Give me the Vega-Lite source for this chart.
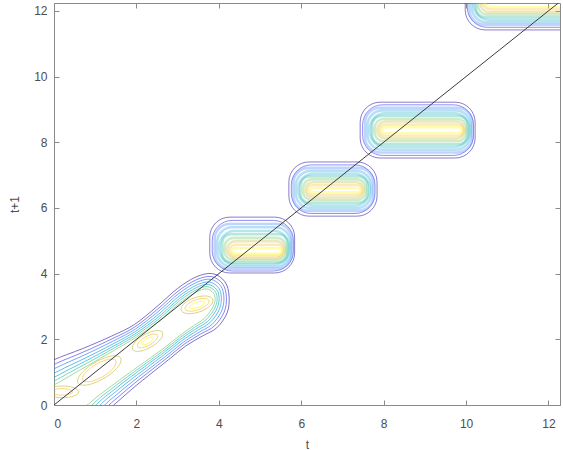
{
"$schema": "https://vega.github.io/schema/vega-lite/v6.json",
"width": 506, "height": 402,
"autosize": {"type": "none"},
"padding": {"left": 54, "top": 3, "right": 3, "bottom": 45},
"background": "white",
"config": {
 "font": "Liberation Sans",
 "view": {"stroke": "#8a8a8a", "strokeWidth": 1},
 "axis": {"grid": false, "domainColor": "#8a8a8a", "tickColor": "#8a8a8a", "labelColor": "#4d4d4d", "labelFontSize": 12, "titleFontSize": 12, "titleFontWeight": "normal", "titleColor": "#4d4d4d", "labelFont": "Liberation Sans", "titleFont": "Liberation Sans"}
},
"datasets": {
 "rings": [
  {"b":"B","lev":1,"x1":3.78,"x2":5.84,"y1":4.02,"y2":5.72},
  {"b":"B","lev":2,"x1":3.84,"x2":5.81,"y1":4.08,"y2":5.62},
  {"b":"B","lev":3,"x1":3.90,"x2":5.77,"y1":4.15,"y2":5.51},
  {"b":"B","lev":4,"x1":3.96,"x2":5.74,"y1":4.21,"y2":5.41},
  {"b":"B","lev":5,"x1":4.02,"x2":5.70,"y1":4.28,"y2":5.30},
  {"b":"B","lev":6,"x1":4.08,"x2":5.67,"y1":4.34,"y2":5.20},
  {"b":"B","lev":7,"x1":4.14,"x2":5.63,"y1":4.41,"y2":5.09},
  {"b":"B","lev":8,"x1":4.20,"x2":5.60,"y1":4.47,"y2":4.99},
  {"b":"B","lev":9,"x1":4.26,"x2":5.56,"y1":4.54,"y2":4.88},
  {"b":"B","lev":10,"x1":4.32,"x2":5.53,"y1":4.60,"y2":4.78},
  {"b":"C","lev":1,"x1":5.70,"x2":7.84,"y1":5.75,"y2":7.40},
  {"b":"C","lev":2,"x1":5.76,"x2":7.79,"y1":5.83,"y2":7.31},
  {"b":"C","lev":3,"x1":5.81,"x2":7.75,"y1":5.91,"y2":7.22},
  {"b":"C","lev":4,"x1":5.87,"x2":7.70,"y1":5.99,"y2":7.13},
  {"b":"C","lev":5,"x1":5.93,"x2":7.66,"y1":6.07,"y2":7.04},
  {"b":"C","lev":6,"x1":5.98,"x2":7.61,"y1":6.16,"y2":6.96},
  {"b":"C","lev":7,"x1":6.04,"x2":7.57,"y1":6.24,"y2":6.87},
  {"b":"C","lev":8,"x1":6.10,"x2":7.52,"y1":6.32,"y2":6.78},
  {"b":"C","lev":9,"x1":6.15,"x2":7.48,"y1":6.40,"y2":6.69},
  {"b":"C","lev":10,"x1":6.21,"x2":7.43,"y1":6.48,"y2":6.60},
  {"b":"D","lev":1,"x1":7.43,"x2":10.22,"y1":7.52,"y2":9.22},
  {"b":"D","lev":2,"x1":7.49,"x2":10.18,"y1":7.60,"y2":9.14},
  {"b":"D","lev":3,"x1":7.55,"x2":10.15,"y1":7.69,"y2":9.05},
  {"b":"D","lev":4,"x1":7.61,"x2":10.11,"y1":7.77,"y2":8.97},
  {"b":"D","lev":5,"x1":7.67,"x2":10.08,"y1":7.86,"y2":8.88},
  {"b":"D","lev":6,"x1":7.72,"x2":10.04,"y1":7.94,"y2":8.80},
  {"b":"D","lev":7,"x1":7.78,"x2":10.01,"y1":8.03,"y2":8.71},
  {"b":"D","lev":8,"x1":7.84,"x2":9.97,"y1":8.11,"y2":8.63},
  {"b":"D","lev":9,"x1":7.90,"x2":9.94,"y1":8.20,"y2":8.54},
  {"b":"D","lev":10,"x1":7.96,"x2":9.90,"y1":8.28,"y2":8.46},
  {"b":"E","lev":1,"x1":9.98,"x2":13.40,"y1":11.42,"y2":13.18},
  {"b":"E","lev":2,"x1":10.03,"x2":13.36,"y1":11.50,"y2":13.10},
  {"b":"E","lev":3,"x1":10.08,"x2":13.31,"y1":11.58,"y2":13.02},
  {"b":"E","lev":4,"x1":10.14,"x2":13.27,"y1":11.65,"y2":12.95},
  {"b":"E","lev":5,"x1":10.19,"x2":13.22,"y1":11.73,"y2":12.87},
  {"b":"E","lev":6,"x1":10.24,"x2":13.18,"y1":11.81,"y2":12.79},
  {"b":"E","lev":7,"x1":10.29,"x2":13.13,"y1":11.89,"y2":12.71},
  {"b":"E","lev":8,"x1":10.35,"x2":13.09,"y1":11.96,"y2":12.64},
  {"b":"E","lev":9,"x1":10.40,"x2":13.04,"y1":12.04,"y2":12.56},
  {"b":"E","lev":10,"x1":10.45,"x2":13.00,"y1":12.12,"y2":12.48}
 ],
 "band": [
  {"c":"a1","lev":1,"i":1,"t":-0.5,"v":1.05},{"c":"a1","lev":1,"i":2,"t":0,"v":1.38},{"c":"a1","lev":1,"i":3,"t":0.7,"v":1.72},{"c":"a1","lev":1,"i":4,"t":1.4,"v":2.1},{"c":"a1","lev":1,"i":5,"t":1.95,"v":2.45},{"c":"a1","lev":1,"i":6,"t":2.5,"v":3.0},{"c":"a1","lev":1,"i":7,"t":3.0,"v":3.55},{"c":"a1","lev":1,"i":8,"t":3.45,"v":3.9},{"c":"a1","lev":1,"i":9,"t":3.85,"v":4.0},{"c":"a1","lev":1,"i":10,"t":4.15,"v":3.75},{"c":"a1","lev":1,"i":11,"t":4.25,"v":3.3},{"c":"a1","lev":1,"i":12,"t":4.2,"v":2.8},{"c":"a1","lev":1,"i":13,"t":3.95,"v":2.35},{"c":"a1","lev":1,"i":14,"t":3.6,"v":2.1},{"c":"a1","lev":1,"i":15,"t":3.2,"v":1.8},{"c":"a1","lev":1,"i":16,"t":2.85,"v":1.45},{"c":"a1","lev":1,"i":17,"t":2.55,"v":1.15},{"c":"a1","lev":1,"i":18,"t":2.0,"v":0.6},{"c":"a1","lev":1,"i":19,"t":1.45,"v":0.0},{"c":"a1","lev":1,"i":20,"t":0.8,"v":-0.7},{"c":"a1","lev":1,"i":21,"t":-0.6,"v":-0.7},
  {"c":"a2","lev":2,"i":1,"t":-0.476,"v":0.9},{"c":"a2","lev":2,"i":2,"t":0.036,"v":1.256},{"c":"a2","lev":2,"i":3,"t":0.718,"v":1.616},{"c":"a2","lev":2,"i":4,"t":1.412,"v":2.016},{"c":"a2","lev":2,"i":5,"t":1.962,"v":2.378},{"c":"a2","lev":2,"i":6,"t":2.512,"v":2.916},{"c":"a2","lev":2,"i":7,"t":3.012,"v":3.466},{"c":"a2","lev":2,"i":8,"t":3.45,"v":3.81},{"c":"a2","lev":2,"i":9,"t":3.82,"v":3.91},{"c":"a2","lev":2,"i":10,"t":4.096,"v":3.684},{"c":"a2","lev":2,"i":11,"t":4.184,"v":3.276},{"c":"a2","lev":2,"i":12,"t":4.128,"v":2.824},{"c":"a2","lev":2,"i":13,"t":3.89,"v":2.404},{"c":"a2","lev":2,"i":14,"t":3.558,"v":2.16},{"c":"a2","lev":2,"i":15,"t":3.17,"v":1.86},{"c":"a2","lev":2,"i":16,"t":2.82,"v":1.51},{"c":"a2","lev":2,"i":17,"t":2.508,"v":1.204},{"c":"a2","lev":2,"i":18,"t":1.952,"v":0.66},{"c":"a2","lev":2,"i":19,"t":1.396,"v":0.072},{"c":"a2","lev":2,"i":20,"t":0.746,"v":-0.604},{"c":"a2","lev":2,"i":21,"t":-0.564,"v":-0.64},
  {"c":"a3","lev":3,"i":1,"t":-0.454,"v":0.763},{"c":"a3","lev":3,"i":2,"t":0.069,"v":1.143},{"c":"a3","lev":3,"i":3,"t":0.735,"v":1.52},{"c":"a3","lev":3,"i":4,"t":1.423,"v":1.939},{"c":"a3","lev":3,"i":5,"t":1.973,"v":2.312},{"c":"a3","lev":3,"i":6,"t":2.523,"v":2.839},{"c":"a3","lev":3,"i":7,"t":3.023,"v":3.389},{"c":"a3","lev":3,"i":8,"t":3.45,"v":3.728},{"c":"a3","lev":3,"i":9,"t":3.793,"v":3.828},{"c":"a3","lev":3,"i":10,"t":4.047,"v":3.624},{"c":"a3","lev":3,"i":11,"t":4.124,"v":3.254},{"c":"a3","lev":3,"i":12,"t":4.062,"v":2.846},{"c":"a3","lev":3,"i":13,"t":3.835,"v":2.454},{"c":"a3","lev":3,"i":14,"t":3.52,"v":2.215},{"c":"a3","lev":3,"i":15,"t":3.143,"v":1.915},{"c":"a3","lev":3,"i":16,"t":2.793,"v":1.565},{"c":"a3","lev":3,"i":17,"t":2.47,"v":1.254},{"c":"a3","lev":3,"i":18,"t":1.908,"v":0.715},{"c":"a3","lev":3,"i":19,"t":1.347,"v":0.138},{"c":"a3","lev":3,"i":20,"t":0.697,"v":-0.516},{"c":"a3","lev":3,"i":21,"t":-0.531,"v":-0.585},
  {"c":"a4","lev":4,"i":1,"t":-0.432,"v":0.625},{"c":"a4","lev":4,"i":2,"t":0.102,"v":1.03},{"c":"a4","lev":4,"i":3,"t":0.751,"v":1.424},{"c":"a4","lev":4,"i":4,"t":1.434,"v":1.862},{"c":"a4","lev":4,"i":5,"t":1.984,"v":2.246},{"c":"a4","lev":4,"i":6,"t":2.534,"v":2.762},{"c":"a4","lev":4,"i":7,"t":3.034,"v":3.312},{"c":"a4","lev":4,"i":8,"t":3.45,"v":3.645},{"c":"a4","lev":4,"i":9,"t":3.765,"v":3.745},{"c":"a4","lev":4,"i":10,"t":3.997,"v":3.563},{"c":"a4","lev":4,"i":11,"t":4.063,"v":3.232},{"c":"a4","lev":4,"i":12,"t":3.996,"v":2.868},{"c":"a4","lev":4,"i":13,"t":3.78,"v":2.503},{"c":"a4","lev":4,"i":14,"t":3.481,"v":2.27},{"c":"a4","lev":4,"i":15,"t":3.115,"v":1.97},{"c":"a4","lev":4,"i":16,"t":2.765,"v":1.62},{"c":"a4","lev":4,"i":17,"t":2.431,"v":1.303},{"c":"a4","lev":4,"i":18,"t":1.864,"v":0.77},{"c":"a4","lev":4,"i":19,"t":1.297,"v":0.204},{"c":"a4","lev":4,"i":20,"t":0.647,"v":-0.428},{"c":"a4","lev":4,"i":21,"t":-0.498,"v":-0.53},
  {"c":"a5","lev":5,"i":1,"t":-0.412,"v":0.5},{"c":"a5","lev":5,"i":2,"t":0.132,"v":0.927},{"c":"a5","lev":5,"i":3,"t":0.766,"v":1.337},{"c":"a5","lev":5,"i":4,"t":1.444,"v":1.792},{"c":"a5","lev":5,"i":5,"t":1.994,"v":2.186},{"c":"a5","lev":5,"i":6,"t":2.544,"v":2.692},{"c":"a5","lev":5,"i":7,"t":3.044,"v":3.242},{"c":"a5","lev":5,"i":8,"t":3.45,"v":3.57},{"c":"a5","lev":5,"i":9,"t":3.74,"v":3.67},{"c":"a5","lev":5,"i":10,"t":3.952,"v":3.508},{"c":"a5","lev":5,"i":11,"t":4.008,"v":3.212},{"c":"a5","lev":5,"i":12,"t":3.936,"v":2.888},{"c":"a5","lev":5,"i":13,"t":3.73,"v":2.548},{"c":"a5","lev":5,"i":14,"t":3.446,"v":2.32},{"c":"a5","lev":5,"i":15,"t":3.09,"v":2.02},{"c":"a5","lev":5,"i":16,"t":2.74,"v":1.67},{"c":"a5","lev":5,"i":17,"t":2.396,"v":1.348},{"c":"a5","lev":5,"i":18,"t":1.824,"v":0.82},{"c":"a5","lev":5,"i":19,"t":1.252,"v":0.264},{"c":"a5","lev":5,"i":20,"t":0.602,"v":-0.348},{"c":"a5","lev":5,"i":21,"t":-0.468,"v":-0.48},
  {"c":"a6","lev":6,"i":1,"t":-0.394,"v":0.388},{"c":"a6","lev":6,"i":2,"t":0.159,"v":0.834},{"c":"a6","lev":6,"i":3,"t":0.78,"v":1.259},{"c":"a6","lev":6,"i":4,"t":1.453,"v":1.729},{"c":"a6","lev":6,"i":5,"t":2.003,"v":2.132},{"c":"a6","lev":6,"i":6,"t":2.553,"v":2.629},{"c":"a6","lev":6,"i":7,"t":3.053,"v":3.179},{"c":"a6","lev":6,"i":8,"t":3.45,"v":3.503},{"c":"a6","lev":6,"i":9,"t":3.718,"v":3.603},{"c":"a6","lev":6,"i":10,"t":3.912,"v":3.459},{"c":"a6","lev":6,"i":11,"t":3.959,"v":3.194},{"c":"a6","lev":6,"i":12,"t":3.882,"v":2.906},{"c":"a6","lev":6,"i":13,"t":3.685,"v":2.589},{"c":"a6","lev":6,"i":14,"t":3.415,"v":2.365},{"c":"a6","lev":6,"i":15,"t":3.068,"v":2.065},{"c":"a6","lev":6,"i":16,"t":2.718,"v":1.715},{"c":"a6","lev":6,"i":17,"t":2.365,"v":1.389},{"c":"a6","lev":6,"i":18,"t":1.788,"v":0.865},{"c":"a6","lev":6,"i":19,"t":1.212,"v":0.318},{"c":"a6","lev":6,"i":20,"t":0.562,"v":-0.276},{"c":"a6","lev":6,"i":21,"t":-0.441,"v":-0.435},
  {"c":"a7","lev":7,"i":1,"t":-0.376,"v":0.275},{"c":"a7","lev":7,"i":2,"t":0.186,"v":0.741},{"c":"a7","lev":7,"i":3,"t":0.793,"v":1.181},{"c":"a7","lev":7,"i":4,"t":1.462,"v":1.666},{"c":"a7","lev":7,"i":5,"t":2.012,"v":2.078},{"c":"a7","lev":7,"i":6,"t":2.562,"v":2.566},{"c":"a7","lev":7,"i":7,"t":3.062,"v":3.116},{"c":"a7","lev":7,"i":8,"t":3.45,"v":3.435},{"c":"a7","lev":7,"i":9,"t":3.695,"v":3.535},{"c":"a7","lev":7,"i":10,"t":3.871,"v":3.409},{"c":"a7","lev":7,"i":11,"t":3.909,"v":3.176},{"c":"a7","lev":7,"i":12,"t":3.828,"v":2.924},{"c":"a7","lev":7,"i":13,"t":3.64,"v":2.629},{"c":"a7","lev":7,"i":14,"t":3.383,"v":2.41},{"c":"a7","lev":7,"i":15,"t":3.045,"v":2.11},{"c":"a7","lev":7,"i":16,"t":2.695,"v":1.76},{"c":"a7","lev":7,"i":17,"t":2.333,"v":1.429},{"c":"a7","lev":7,"i":18,"t":1.752,"v":0.91},{"c":"a7","lev":7,"i":19,"t":1.171,"v":0.372},{"c":"a7","lev":7,"i":20,"t":0.521,"v":-0.204},{"c":"a7","lev":7,"i":21,"t":-0.414,"v":-0.39}
 ],
 "islands": [
  {"c":"p1a","lev":8,"i":1,"t":0.6,"v":0.4},{"c":"p1a","lev":8,"i":2,"t":0.483,"v":0.527},{"c":"p1a","lev":8,"i":3,"t":0.2,"v":0.58},{"c":"p1a","lev":8,"i":4,"t":-0.083,"v":0.527},{"c":"p1a","lev":8,"i":5,"t":-0.2,"v":0.4},{"c":"p1a","lev":8,"i":6,"t":-0.083,"v":0.273},{"c":"p1a","lev":8,"i":7,"t":0.2,"v":0.22},{"c":"p1a","lev":8,"i":8,"t":0.483,"v":0.273},
  {"c":"p1b","lev":9,"i":1,"t":0.45,"v":0.4},{"c":"p1b","lev":9,"i":2,"t":0.377,"v":0.471},{"c":"p1b","lev":9,"i":3,"t":0.2,"v":0.5},{"c":"p1b","lev":9,"i":4,"t":0.023,"v":0.471},{"c":"p1b","lev":9,"i":5,"t":-0.05,"v":0.4},{"c":"p1b","lev":9,"i":6,"t":0.023,"v":0.329},{"c":"p1b","lev":9,"i":7,"t":0.2,"v":0.3},{"c":"p1b","lev":9,"i":8,"t":0.377,"v":0.329},
  {"c":"p2a","lev":8,"i":1,"t":1.607,"v":1.453},{"c":"p2a","lev":8,"i":2,"t":1.344,"v":1.478},{"c":"p2a","lev":8,"i":3,"t":0.939,"v":1.253},{"c":"p2a","lev":8,"i":4,"t":0.628,"v":0.908},{"c":"p2a","lev":8,"i":5,"t":0.593,"v":0.647},{"c":"p2a","lev":8,"i":6,"t":0.856,"v":0.622},{"c":"p2a","lev":8,"i":7,"t":1.261,"v":0.847},{"c":"p2a","lev":8,"i":8,"t":1.572,"v":1.192},
  {"c":"p2b","lev":9,"i":1,"t":1.49,"v":1.36},{"c":"p2b","lev":9,"i":2,"t":1.288,"v":1.379},{"c":"p2b","lev":9,"i":3,"t":0.976,"v":1.206},{"c":"p2b","lev":9,"i":4,"t":0.736,"v":0.941},{"c":"p2b","lev":9,"i":5,"t":0.71,"v":0.74},{"c":"p2b","lev":9,"i":6,"t":0.912,"v":0.721},{"c":"p2b","lev":9,"i":7,"t":1.224,"v":0.894},{"c":"p2b","lev":9,"i":8,"t":1.464,"v":1.159},
  {"c":"p3a","lev":8,"i":1,"t":2.621,"v":2.229},{"c":"p3a","lev":8,"i":2,"t":2.43,"v":2.257},{"c":"p3a","lev":8,"i":3,"t":2.146,"v":2.106},{"c":"p3a","lev":8,"i":4,"t":1.934,"v":1.863},{"c":"p3a","lev":8,"i":5,"t":1.919,"v":1.671},{"c":"p3a","lev":8,"i":6,"t":2.11,"v":1.643},{"c":"p3a","lev":8,"i":7,"t":2.394,"v":1.794},{"c":"p3a","lev":8,"i":8,"t":2.606,"v":2.037},
  {"c":"p3b","lev":9,"i":1,"t":2.504,"v":2.136},{"c":"p3b","lev":9,"i":2,"t":2.378,"v":2.153},{"c":"p3b","lev":9,"i":3,"t":2.189,"v":2.051},{"c":"p3b","lev":9,"i":4,"t":2.048,"v":1.889},{"c":"p3b","lev":9,"i":5,"t":2.036,"v":1.764},{"c":"p3b","lev":9,"i":6,"t":2.162,"v":1.747},{"c":"p3b","lev":9,"i":7,"t":2.351,"v":1.849},{"c":"p3b","lev":9,"i":8,"t":2.492,"v":2.011},
  {"c":"p3c","lev":10,"i":1,"t":2.403,"v":2.055},{"c":"p3c","lev":10,"i":2,"t":2.333,"v":2.063},{"c":"p3c","lev":10,"i":3,"t":2.227,"v":2.005},{"c":"p3c","lev":10,"i":4,"t":2.145,"v":1.915},{"c":"p3c","lev":10,"i":5,"t":2.137,"v":1.845},{"c":"p3c","lev":10,"i":6,"t":2.207,"v":1.837},{"c":"p3c","lev":10,"i":7,"t":2.313,"v":1.895},{"c":"p3c","lev":10,"i":8,"t":2.395,"v":1.985},
  {"c":"p4a","lev":8,"i":1,"t":3.848,"v":3.235},{"c":"p4a","lev":8,"i":2,"t":3.668,"v":3.321},{"c":"p4a","lev":8,"i":3,"t":3.373,"v":3.248},{"c":"p4a","lev":8,"i":4,"t":3.134,"v":3.059},{"c":"p4a","lev":8,"i":5,"t":3.092,"v":2.865},{"c":"p4a","lev":8,"i":6,"t":3.272,"v":2.779},{"c":"p4a","lev":8,"i":7,"t":3.567,"v":2.852},{"c":"p4a","lev":8,"i":8,"t":3.806,"v":3.041},
  {"c":"p4b","lev":9,"i":1,"t":3.758,"v":3.191},{"c":"p4b","lev":9,"i":2,"t":3.627,"v":3.245},{"c":"p4b","lev":9,"i":3,"t":3.404,"v":3.185},{"c":"p4b","lev":9,"i":4,"t":3.219,"v":3.045},{"c":"p4b","lev":9,"i":5,"t":3.182,"v":2.909},{"c":"p4b","lev":9,"i":6,"t":3.313,"v":2.855},{"c":"p4b","lev":9,"i":7,"t":3.536,"v":2.915},{"c":"p4b","lev":9,"i":8,"t":3.721,"v":3.055},
  {"c":"p4c","lev":10,"i":1,"t":3.65,"v":3.138},{"c":"p4c","lev":10,"i":2,"t":3.572,"v":3.163},{"c":"p4c","lev":10,"i":3,"t":3.435,"v":3.122},{"c":"p4c","lev":10,"i":4,"t":3.318,"v":3.039},{"c":"p4c","lev":10,"i":5,"t":3.29,"v":2.962},{"c":"p4c","lev":10,"i":6,"t":3.368,"v":2.937},{"c":"p4c","lev":10,"i":7,"t":3.505,"v":2.978},{"c":"p4c","lev":10,"i":8,"t":3.622,"v":3.061}
 ],
 "diag": [{"t":0,"v":0},{"t":12.6,"v":12.6}]
},
"layer": [
 {
  "data": {"name": "rings"},
  "transform": [{"filter": "datum.lev <= 2"}],
  "mark": {"type": "rect", "filled": false, "cornerRadius": 20, "strokeWidth": 1, "opacity": 0.6, "clip": true},
  "encoding": {
   "x": {"field": "x1", "type": "quantitative", "scale": {"domain": [0, 12.28], "nice": false, "zero": false}, "axis": null},
   "x2": {"field": "x2"},
   "y": {"field": "y1", "type": "quantitative", "scale": {"domain": [0, 12.24], "nice": false, "zero": false}, "axis": null},
   "y2": {"field": "y2"},
   "color": {"field": "lev", "type": "ordinal", "scale": {"domain": [1,2,3,4,5,6,7,8,9,10], "range": ["#3E26A8","#4745EE","#2878F9","#1996DF","#05ACCC","#33BD9E","#73C769","#C4BD42","#FCBF3B","#F9FB15"]}, "legend": null}
  }
 },
 {
  "data": {"name": "rings"},
  "transform": [{"filter": "datum.lev >= 3 && datum.lev <= 5"}],
  "mark": {"type": "rect", "filled": false, "cornerRadius": 15, "strokeWidth": 2.6, "opacity": 0.3, "clip": true},
  "encoding": {
   "x": {"field": "x1", "type": "quantitative", "axis": null},
   "x2": {"field": "x2"},
   "y": {"field": "y1", "type": "quantitative", "axis": null},
   "y2": {"field": "y2"},
   "color": {"field": "lev", "type": "ordinal", "legend": null}
  }
 },
 {
  "data": {"name": "rings"},
  "transform": [{"filter": "datum.lev >= 6"}],
  "mark": {"type": "rect", "filled": false, "cornerRadius": 9, "strokeWidth": 2.6, "opacity": 0.35, "clip": true},
  "encoding": {
   "x": {"field": "x1", "type": "quantitative", "axis": null},
   "x2": {"field": "x2"},
   "y": {"field": "y1", "type": "quantitative", "axis": null},
   "y2": {"field": "y2"},
   "color": {"field": "lev", "type": "ordinal", "legend": null}
  }
 },
 {
  "data": {"name": "band"},
  "mark": {"type": "line", "interpolate": "cardinal-closed", "strokeWidth": 1, "opacity": 0.65, "clip": true},
  "encoding": {
   "x": {"field": "t", "type": "quantitative", "axis": {"orient": "top", "values": [0,2,4,6,8,10,12], "labels": false, "tickSize": -5, "title": null, "domain": false}},
   "y": {"field": "v", "type": "quantitative", "axis": {"orient": "right", "values": [0,2,4,6,8,10,12], "labels": false, "tickSize": -5, "title": null, "domain": false}},
   "detail": {"field": "c"},
   "order": {"field": "i", "type": "quantitative"},
   "color": {"field": "lev", "type": "ordinal", "legend": null}
  }
 },
 {
  "data": {"name": "islands"},
  "mark": {"type": "line", "interpolate": "cardinal-closed", "strokeWidth": 1, "opacity": 0.65, "clip": true},
  "encoding": {
   "x": {"field": "t", "type": "quantitative", "axis": null},
   "y": {"field": "v", "type": "quantitative", "axis": null},
   "detail": {"field": "c"},
   "order": {"field": "i", "type": "quantitative"},
   "color": {"field": "lev", "type": "ordinal", "legend": null}
  }
 },
 {
  "data": {"name": "diag"},
  "mark": {"type": "line", "color": "#3c3c3c", "strokeWidth": 1, "clip": true},
  "encoding": {
   "x": {"field": "t", "type": "quantitative", "axis": {"orient": "bottom", "values": [0,2,4,6,8,10,12], "tickSize": -5, "labelPadding": 18, "title": "t", "titleY": 39, "titleBaseline": "middle"}},
   "y": {"field": "v", "type": "quantitative", "axis": {"orient": "left", "values": [0,2,4,6,8,10,12], "tickSize": -5, "labelPadding": 12, "title": "t+1", "titleX": -40, "titleY": 201, "titleBaseline": "middle", "titleAngle": -90}}
  }
 }
],
"resolve": {"axis": {"x": "independent", "y": "independent"}}
}
